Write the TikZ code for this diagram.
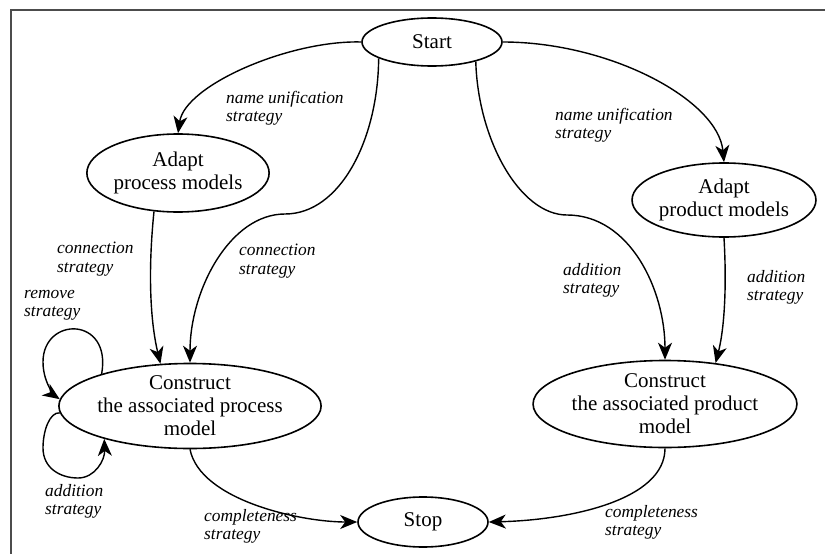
\documentclass[tikz,border=0pt]{standalone}
\usepackage{fontspec}
\setmainfont{Liberation Serif}
\usetikzlibrary{shapes.geometric}
\usetikzlibrary{arrows.meta}

\begin{document}
\begin{tikzpicture}[x=1pt, y=-1pt,
	goal/.style ={ellipse, draw, line width=1.6pt, inner sep=0pt, align=center, font=\fontsize{21}{23}\selectfont},
	strat/.style ={anchor=north west, inner sep=0pt, align=left, font=\fontsize{17.4}{18.5}\selectfont\itshape, execute at begin node=\strut},
	flow/.style ={line width=1.4pt, -{Stealth[length=17pt,width=14pt,inset=5pt]}}]
% Map of the integration strategies

% Frame
\useasboundingbox (0,0) rectangle (825,554);
\draw[line width=1.5pt, color=black!70] (825,10) -- (11,10) -- (11,554);

% Nodes
\node[goal, minimum width=140, minimum height=48] (start) at (432,42) {Start};
\node[goal, minimum width=180, minimum height=78] (apm) at (178,173) {Adapt\\process models};
\node[goal, minimum width=180, minimum height=74] (adm) at (724,200) {Adapt\\product models};
\node[goal, minimum width=230, minimum height=82] (cpm) at (190,406) {Construct\\the associated process\\model};
\node[goal, minimum width=230, minimum height=87] (cdm) at (665,404) {Construct\\the associated product\\model};
\node[goal, minimum width=130, minimum height=50] (stop) at (423,522) {Stop};

% Connections
\draw[flow] (start.west) .. controls (290,40) and (185,85) .. (apm.north);
\draw[flow] (start.east) .. controls (610,42) and (718,100) .. (adm.north);
\draw[flow] (start.197) .. controls (378,140) and (340,214) .. (285,214) .. controls (230,214) and (190,290) .. (cpm.north);
\draw[flow] (start.-24) .. controls (478,140) and (520,215) .. (567,215) .. controls (630,215) and (665,290) .. (cdm.north);
\draw[flow] (apm.238) .. controls (148,270) and (150,320) .. (cpm.125);
\draw[flow] (adm.south) .. controls (727,290) and (724,330) .. (cdm.39);
\draw[flow] (cpm.160) .. controls (112,316) and (43,316) .. (43,362) .. controls (43,385) and (58,398) .. (cpm.177);
\draw[flow] (cpm.183) .. controls (50,412) and (43,430) .. (43,448) .. controls (43,468) and (60,478) .. (78,478) .. controls (95,478) and (105,460) .. (cpm.201);
\draw[flow] (cpm.south) .. controls (200,500) and (300,522) .. (stop.west);
\draw[flow] (cdm.south) .. controls (665,500) and (570,520) .. (stop.east);

% Labels
\node[strat] (l1) at (226,91) {name unification\\strategy};
\node[strat] (l2) at (57,242) {connection\\strategy};
\node[strat] (l3) at (239,244) {connection\\strategy};
\node[strat] (l4) at (555,108) {name unification\\strategy};
\node[strat] (l5) at (563,263) {addition\\strategy};
\node[strat] (l6) at (747,270) {addition\\strategy};
\node[strat] (l7) at (24,290) {remove\\strategy};
\node[strat] (l8) at (45,484) {addition\\strategy};
\node[strat] (l9) at (204,509) {completeness\\strategy};
\node[strat] (l10) at (605,505) {completeness\\strategy};
\end{tikzpicture}
\end{document}
